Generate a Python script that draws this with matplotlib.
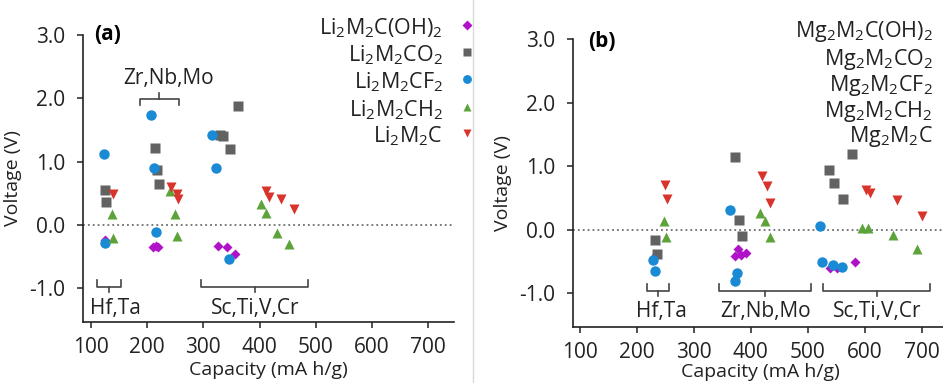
import matplotlib
matplotlib.use("Agg")
import matplotlib.pyplot as plt

plt.rcParams['font.family'] = ['Open Sans', 'DejaVu Sans']
plt.rcParams['mathtext.default'] = 'regular'

W, H = 943, 383

# series names
series_a = ['Li$_2$M$_2$C(OH)$_2$', 'Li$_2$M$_2$CO$_2$', 'Li$_2$M$_2$CF$_2$',
            'Li$_2$M$_2$CH$_2$', 'Li$_2$M$_2$C']
series_b = ['Mg$_2$M$_2$C(OH)$_2$', 'Mg$_2$M$_2$CO$_2$', 'Mg$_2$M$_2$CF$_2$',
            'Mg$_2$M$_2$CH$_2$', 'Mg$_2$M$_2$C']

# panel (a) : Li  -- capacity (mAh/g), voltage (V)
a_oh_cap = [125, 210, 216, 220, 326, 342, 356]
a_oh_v = [-0.24, -0.34, -0.33, -0.35, -0.33, -0.34, -0.46]
a_o2_cap = [126, 127, 214, 218, 221, 330, 335, 347, 361]
a_o2_v = [0.56, 0.37, 1.22, 0.87, 0.65, 1.42, 1.41, 1.20, 1.88]
a_f2_cap = [124, 125, 207, 213, 216, 316, 322, 346]
a_f2_v = [1.12, -0.28, 1.74, 0.90, -0.11, 1.42, 0.90, -0.54]
a_h2_cap = [137, 139, 241, 249, 253, 403, 411, 432, 452]
a_h2_v = [0.17, -0.21, 0.53, 0.18, -0.18, 0.34, 0.19, -0.13, -0.30]
a_c_cap = [139, 243, 253, 255, 411, 417, 438, 461]
a_c_v = [0.49, 0.60, 0.49, 0.41, 0.53, 0.45, 0.41, 0.26]

# panel (b) : Mg
b_oh_cap = [233, 372, 378, 382, 392, 539, 551, 582]
b_oh_v = [-0.39, -0.42, -0.31, -0.39, -0.37, -0.60, -0.60, -0.50]
b_o2_cap = [232, 236, 372, 379, 385, 537, 546, 561, 577]
b_o2_v = [-0.16, -0.38, 1.14, 0.15, -0.10, 0.94, 0.74, 0.49, 1.19]
b_f2_cap = [229, 232, 363, 376, 372, 521, 525, 544, 560]
b_f2_v = [-0.47, -0.65, 0.31, -0.68, -0.81, 0.06, -0.50, -0.55, -0.58]
b_h2_cap = [247, 252, 416, 425, 433, 595, 605, 649, 691]
b_h2_v = [0.13, -0.11, 0.27, 0.14, -0.11, 0.02, 0.02, -0.08, -0.30]
b_c_cap = [249, 253, 419, 428, 433, 602, 609, 656, 700]
b_c_v = [0.71, 0.48, 0.85, 0.68, 0.42, 0.63, 0.58, 0.46, 0.22]

# metal groups: (label, left cap, right cap, bracket voltage, label cap, label voltage)
groups_a = [('Hf,Ta', 111, 153, -0.97, 143, -1.32),
            ('Zr,Nb,Mo', 187, 257, 1.99, 238, 2.32),
            ('Sc,Ti,V,Cr', 296, 487, -0.97, 393, -1.32)]
groups_b = [('Hf,Ta', 217, 257, -0.96, 243, -1.28),
            ('Zr,Nb,Mo', 344, 505, -0.96, 425, -1.28),
            ('Sc,Ti,V,Cr', 526, 715, -0.96, 621, -1.28)]

markers = ['D', 's', 'o', '^', 'v']
sizes = [5.5, 7, 7.5, 7, 7]
colors = ['#b012c8', '#626262', '#1a8ad4', '#5ca33a', '#d8342c']

fig = plt.figure(figsize=(W / 100, H / 100), dpi=100)


def px_axes(left, right, top, bottom):
    return fig.add_axes([left / W, 1 - bottom / H, (right - left) / W, (bottom - top) / H])


def style(ax, xlim, labelpad):
    ax.set_xlim(*xlim)
    ax.set_ylim(-1.53, 3.0)
    for s in ['top', 'right']:
        ax.spines[s].set_visible(False)
    for s in ['left', 'bottom']:
        ax.spines[s].set_linewidth(1.2)
        ax.spines[s].set_color('#222222')
    ax.set_xticks([100, 200, 300, 400, 500, 600, 700])
    ax.set_yticks([-1, 0, 1, 2, 3])
    ax.set_yticklabels(['-1.0', '0.0', '1.0', '2.0', '3.0'])
    ax.tick_params(direction='out', length=4, width=1.1, labelsize=15,
                   color='#222222', labelcolor='#222222')
    ax.tick_params(axis='y', pad=9)
    ax.tick_params(axis='x', pad=7)
    ax.axhline(0, color='#555555', ls=(0, (1.2, 2)), lw=1.1, zorder=1)
    ax.set_xlabel('Capacity (mA h/g)', fontsize=14, labelpad=labelpad, color='#222222')
    ax.set_ylabel('Voltage (V)', fontsize=14, labelpad=5, color='#222222')


def brackets(ax, groups):
    for name, c0, c1, v, lc, lv in groups:
        mid = (c0 + c1) / 2
        d = 0.1 if v < 0 else -0.1
        ax.plot([c0, c0, c1, c1], [v + d, v, v, v + d], color='#444444', lw=1.2, clip_on=False)
        ax.plot([mid, mid], [v, v - 0.9 * d], color='#444444', lw=1.2, clip_on=False)
        ax.text(lc, lv, name, fontsize=15, ha='center', va='center', color='#222222')


ax1 = px_axes(83, 454, 35, 322)
style(ax1, (86, 746), 2)
data_a = [(a_oh_cap, a_oh_v), (a_o2_cap, a_o2_v), (a_f2_cap, a_f2_v),
          (a_h2_cap, a_h2_v), (a_c_cap, a_c_v)]
for (c, v), m, ms, col in zip(data_a, markers, sizes, colors):
    ax1.plot(c, v, ls='none', marker=m, ms=ms, color=col, mec='none', zorder=3)
brackets(ax1, groups_a)
ax1.text(0.03, 1.0, '(a)', transform=ax1.transAxes, fontsize=15, fontweight='bold', va='center')

ax2 = px_axes(573, 573 + 658 * 0.57, 39, 327)
style(ax2, (88, 746), 0)
data_b = [(b_oh_cap, b_oh_v), (b_o2_cap, b_o2_v), (b_f2_cap, b_f2_v),
          (b_h2_cap, b_h2_v), (b_c_cap, b_c_v)]
for (c, v), m, ms, col in zip(data_b, markers, sizes, colors):
    ax2.plot(c, v, ls='none', marker=m, ms=ms, color=col, mec='none', zorder=3)
brackets(ax2, groups_b)
ax2.text(0.04, 0.99, '(b)', transform=ax2.transAxes, fontsize=15, fontweight='bold', va='center')

# legends, text right aligned with marker to the right
rows_a = [25, 52, 79, 107, 133]
for name, y, m, ms, col in zip(series_a, rows_a, markers, sizes, colors):
    fig.text(443 / W, 1 - y / H, name, fontsize=15.5, ha='right', va='center_baseline', color='#222222')
    fig.lines.append(plt.Line2D([467 / W], [1 - y / H], transform=fig.transFigure, ls='none',
                                marker=m, ms=ms * 0.85, color=col, mec='none'))
rows_b = [28, 56, 82, 108, 133]
for name, y in zip(series_b, rows_b):
    fig.text(933 / W, 1 - y / H, name, fontsize=15.5, ha='right', va='center_baseline', color='#222222')

# separator between panels
fig.lines.append(plt.Line2D([473 / W, 473 / W], [0, 1], transform=fig.transFigure,
                            color='#d9d9d9', lw=1))

fig.savefig('out.png', dpi=100)
